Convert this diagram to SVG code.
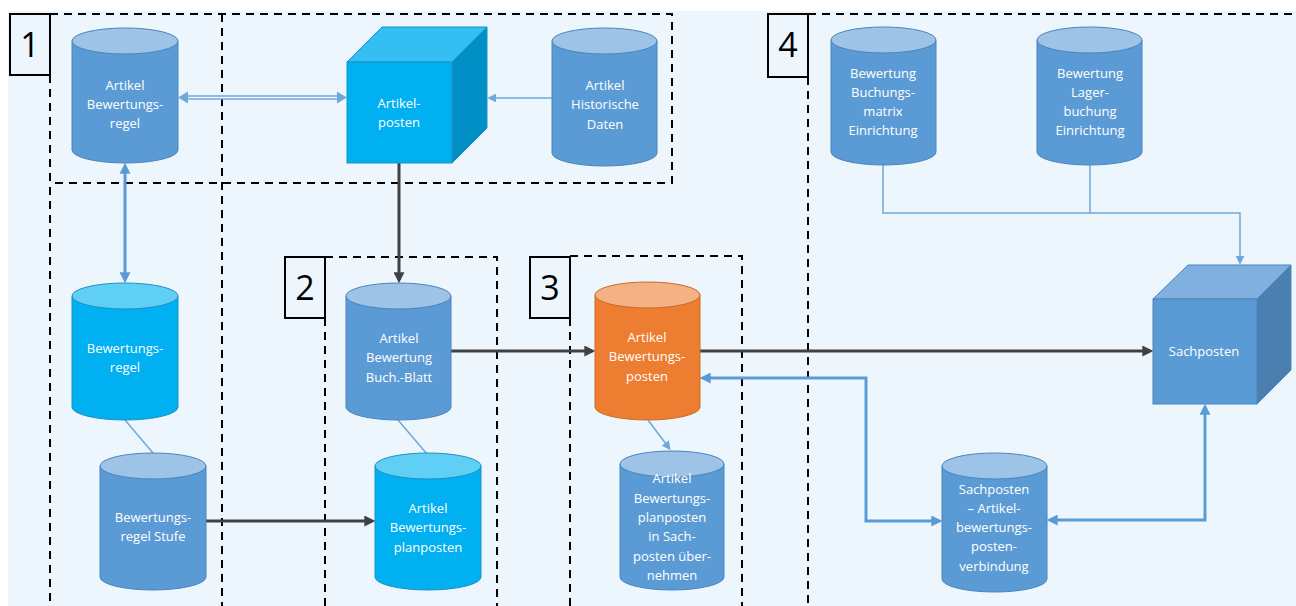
<svg xmlns="http://www.w3.org/2000/svg" width="1296" height="606" viewBox="0 0 1296 606">
  <defs>
    <style>
      .dash { fill: none; stroke: #000; stroke-width: 2; stroke-dasharray: 8 6; }
      .numbox { fill: #eef6fd; stroke: #000; stroke-width: 2; }
      .num { font-family: "Open Sans", "Liberation Sans", sans-serif; font-size: 34px; fill: #000; text-anchor: middle; }
      .lbl { font-family: "Open Sans", "Liberation Sans", sans-serif; font-size: 13px; fill: #fff; text-anchor: middle; }
      .cylB .body { fill: #5b9bd5; stroke: #4a84bd; stroke-width: 1; }
      .cylB .cap { fill: #9dc3e6; stroke: #4a84bd; stroke-width: 1; }
      .cylC .body { fill: #00b0f0; stroke: #1f8fc4; stroke-width: 1; }
      .cylC .cap { fill: #60cff5; stroke: #1f8fc4; stroke-width: 1; }
      .cylO .body { fill: #ed7d31; stroke: #c96a2a; stroke-width: 1; }
      .cylO .cap { fill: #f4b183; stroke: #c96a2a; stroke-width: 1; }
      .dark { fill: none; stroke: #404040; stroke-width: 3; }
      .blueThick { fill: none; stroke: #5b9bd5; stroke-width: 3; }
      .blueThin { fill: none; stroke: #6fa8dc; stroke-width: 1.5; }
    </style>
    <marker id="arrDark" viewBox="0 0 10 10" refX="7" refY="5" markerWidth="11" markerHeight="11" markerUnits="userSpaceOnUse" orient="auto-start-reverse">
      <path d="M0,0 L10,5 L0,10 z" fill="#404040"/>
    </marker>
    <marker id="arrBlue" viewBox="0 0 10 10" refX="7" refY="5" markerWidth="11" markerHeight="11" markerUnits="userSpaceOnUse" orient="auto-start-reverse">
      <path d="M0,0 L10,5 L0,10 z" fill="#5b9bd5"/>
    </marker>
    <marker id="arrThin" viewBox="0 0 10 10" refX="7" refY="5" markerWidth="9" markerHeight="9" markerUnits="userSpaceOnUse" orient="auto-start-reverse">
      <path d="M0,0 L10,5 L0,10 z" fill="#6fa8dc"/>
    </marker>
  </defs>

  <!-- canvas -->
  <rect x="0" y="0" width="1296" height="606" fill="#ffffff"/>
  <rect x="8" y="11" width="1288" height="595" fill="#eef6fd"/>

  <!-- region frames -->
  <g id="regions">
    <path class="dash" d="M50,14 H672 V183 H50"/>
    <path class="dash" d="M50,75 V606"/>
    <path class="dash" d="M222,14 V606"/>
    <path class="dash" d="M325,257 H497 V606"/>
    <path class="dash" d="M325,318 V606"/>
    <path class="dash" d="M570,256 H742 V606"/>
    <path class="dash" d="M570,318 V606"/>
    <path class="dash" d="M808,14 H1296"/>
    <path class="dash" d="M808,77 V606"/>
  </g>

  <!-- connectors -->
  <g id="connectors">
    <!-- double line between Artikel Bewertungsregel and Artikelposten -->
    <path d="M184,97.5 H341" stroke="#6fa8dc" stroke-width="4.5" fill="none"/>
    <path d="M184,97.5 H341" stroke="#eef6fd" stroke-width="1.5" fill="none"/>
    <polygon points="178,97.5 188,91.5 188,103.5" fill="#6fa8dc"/>
    <polygon points="347,97.5 337,91.5 337,103.5" fill="#6fa8dc"/>
    <path class="blueThin" d="M552,98 H490" marker-end="url(#arrThin)"/>

    <path class="blueThick" d="M125,166 V280" marker-start="url(#arrBlue)" marker-end="url(#arrBlue)"/>
    <path class="dark" d="M399,163 V280" marker-end="url(#arrDark)"/>

    <path class="blueThin" d="M125,420 L153,453"/>
    <path class="blueThin" d="M398,420 L427,454"/>

    <path class="dark" d="M206,521 H372" marker-end="url(#arrDark)"/>
    <path class="dark" d="M451,351 H592" marker-end="url(#arrDark)"/>
    <path class="dark" d="M700,351 H1150" marker-end="url(#arrDark)"/>

    <path class="blueThin" d="M648,420 L669,448" marker-end="url(#arrThin)"/>

    <path class="blueThick" d="M703,378 H866 V521 H939" marker-start="url(#arrBlue)" marker-end="url(#arrBlue)"/>
    <path class="blueThick" d="M1205,407 V520 H1050" marker-start="url(#arrBlue)" marker-end="url(#arrBlue)"/>

    <path class="blueThin" d="M883,165 V213 H1240 V262" marker-end="url(#arrThin)"/>
    <path class="blueThin" d="M1090,165 V213"/>
  </g>

  <!-- section numbers -->
  <g id="num1"><rect class="numbox" x="10" y="14" width="40" height="61"/><text class="num" x="30" y="57">1</text></g>
  <g id="num2"><rect class="numbox" x="285" y="257" width="40" height="61"/><text class="num" x="305" y="300">2</text></g>
  <g id="num3"><rect class="numbox" x="530" y="257" width="40" height="61"/><text class="num" x="550" y="300">3</text></g>
  <g id="num4"><rect class="numbox" x="768" y="14" width="40" height="63"/><text class="num" x="788" y="57">4</text></g>

  <!-- nodes -->
  <g id="artikel-bewertungsregel" class="cylB">
    <path class="body" d="M72,41 V150 A53,13 0 0 0 178,150 V41 Z"/>
    <ellipse class="cap" cx="125" cy="41" rx="53" ry="13"/>
    <text class="lbl" x="125" y="90">Artikel</text>
    <text class="lbl" x="125" y="109">Bewertungs-</text>
    <text class="lbl" x="125" y="128">regel</text>
  </g>

  <g id="artikelposten">
    <polygon points="347,62 382,27 487,27 452,62" fill="#33bff3" stroke="#1f8fc4" stroke-width="1"/>
    <polygon points="452,62 487,27 487,128 452,163" fill="#0090c5" stroke="#1f8fc4" stroke-width="1"/>
    <rect x="347" y="62" width="105" height="101" fill="#00b0f0" stroke="#1f8fc4" stroke-width="1"/>
    <text class="lbl" x="399" y="108">Artikel-</text>
    <text class="lbl" x="399" y="127">posten</text>
  </g>

  <g id="artikel-historische-daten" class="cylB">
    <path class="body" d="M552,41 V153 A52.5,13 0 0 0 657,153 V41 Z"/>
    <ellipse class="cap" cx="604.5" cy="41" rx="52.5" ry="13"/>
    <text class="lbl" x="605" y="90">Artikel</text>
    <text class="lbl" x="605" y="109">Historische</text>
    <text class="lbl" x="605" y="129">Daten</text>
  </g>

  <g id="bewertungsregel" class="cylC">
    <path class="body" d="M72,296 V407 A53,13 0 0 0 178,407 V296 Z"/>
    <ellipse class="cap" cx="125" cy="296" rx="53" ry="13"/>
    <text class="lbl" x="125" y="353">Bewertungs-</text>
    <text class="lbl" x="125" y="372">regel</text>
  </g>

  <g id="bewertungsregel-stufe" class="cylB">
    <path class="body" d="M100,466 V577 A53,13 0 0 0 206,577 V466 Z"/>
    <ellipse class="cap" cx="153" cy="466" rx="53" ry="13"/>
    <text class="lbl" x="153" y="522">Bewertungs-</text>
    <text class="lbl" x="153" y="541">regel Stufe</text>
  </g>

  <g id="artikel-bewertung-buchblatt" class="cylB">
    <path class="body" d="M346,296 V407 A52.5,13 0 0 0 451,407 V296 Z"/>
    <ellipse class="cap" cx="398.5" cy="296" rx="52.5" ry="13"/>
    <text class="lbl" x="399" y="343">Artikel</text>
    <text class="lbl" x="399" y="362">Bewertung</text>
    <text class="lbl" x="399" y="382">Buch.-Blatt</text>
  </g>

  <g id="artikel-bewertungsplanposten" class="cylC">
    <path class="body" d="M375,466 V577 A53,13 0 0 0 481,577 V466 Z"/>
    <ellipse class="cap" cx="428" cy="466" rx="53" ry="13"/>
    <text class="lbl" x="428" y="513">Artikel</text>
    <text class="lbl" x="428" y="532">Bewertungs-</text>
    <text class="lbl" x="428" y="552">planposten</text>
  </g>

  <g id="artikel-bewertungsposten" class="cylO">
    <path class="body" d="M595,295 V407 A52.5,13 0 0 0 700,407 V295 Z"/>
    <ellipse class="cap" cx="647.5" cy="295" rx="52.5" ry="13"/>
    <text class="lbl" x="647" y="342">Artikel</text>
    <text class="lbl" x="647" y="361">Bewertungs-</text>
    <text class="lbl" x="647" y="381">posten</text>
  </g>

  <g id="planposten-in-sachposten" class="cylB">
    <path class="body" d="M620,464 V577 A52,13 0 0 0 724,577 V464 Z"/>
    <ellipse class="cap" cx="672" cy="464" rx="52" ry="13"/>
    <text class="lbl" x="672" y="483">Artikel</text>
    <text class="lbl" x="672" y="503">Bewertungs-</text>
    <text class="lbl" x="672" y="522">planposten</text>
    <text class="lbl" x="672" y="541">in Sach-</text>
    <text class="lbl" x="672" y="561">posten über-</text>
    <text class="lbl" x="672" y="580">nehmen</text>
  </g>

  <g id="sachposten-verbindung" class="cylB">
    <path class="body" d="M942,466 V579 A52.5,13 0 0 0 1047,579 V466 Z"/>
    <ellipse class="cap" cx="994.5" cy="466" rx="52.5" ry="13"/>
    <text class="lbl" x="994" y="494">Sachposten</text>
    <text class="lbl" x="994" y="513">– Artikel-</text>
    <text class="lbl" x="994" y="532">bewertungs-</text>
    <text class="lbl" x="994" y="551">posten-</text>
    <text class="lbl" x="994" y="571">verbindung</text>
  </g>

  <g id="bewertung-buchungsmatrix" class="cylB">
    <path class="body" d="M831,40 V152 A52.5,13 0 0 0 936,152 V40 Z"/>
    <ellipse class="cap" cx="883.5" cy="40" rx="52.5" ry="13"/>
    <text class="lbl" x="883" y="78">Bewertung</text>
    <text class="lbl" x="883" y="97">Buchungs-</text>
    <text class="lbl" x="883" y="116">matrix</text>
    <text class="lbl" x="883" y="135">Einrichtung</text>
  </g>

  <g id="bewertung-lagerbuchung" class="cylB">
    <path class="body" d="M1037,40 V152 A52.5,13 0 0 0 1142,152 V40 Z"/>
    <ellipse class="cap" cx="1089.5" cy="40" rx="52.5" ry="13"/>
    <text class="lbl" x="1090" y="78">Bewertung</text>
    <text class="lbl" x="1090" y="97">Lager-</text>
    <text class="lbl" x="1090" y="116">buchung</text>
    <text class="lbl" x="1090" y="135">Einrichtung</text>
  </g>

  <g id="sachposten">
    <polygon points="1153,299 1188,265 1291,265 1257,299" fill="#7fb0e0" stroke="#4a84bd" stroke-width="1"/>
    <polygon points="1257,299 1291,265 1291,370 1257,404" fill="#4a7fb0" stroke="#4a84bd" stroke-width="1"/>
    <rect x="1153" y="299" width="104" height="105" fill="#5b9bd5" stroke="#4a84bd" stroke-width="1"/>
    <text class="lbl" x="1204" y="356">Sachposten</text>
  </g>
</svg>
